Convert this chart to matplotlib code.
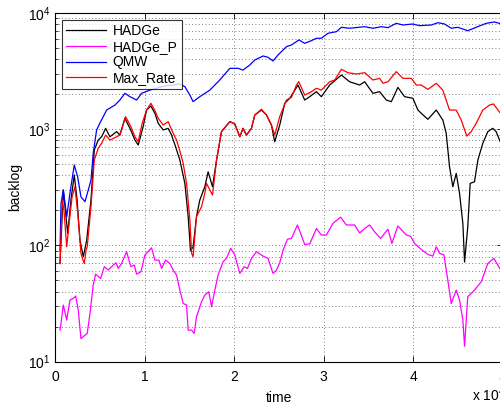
import matplotlib
matplotlib.use("Agg")
import matplotlib.pyplot as plt
from matplotlib.ticker import LogLocator, NullFormatter

plt.rcParams['font.family'] = ['Liberation Sans', 'DejaVu Sans']
plt.rcParams['mathtext.default'] = 'regular'

# backlog traces
t_hadge = [560, 930, 1420, 1790, 2150, 2460, 2790, 3160, 3540, 4020, 4390, 4830, 5210, 5660,
           6140, 6890, 7250, 7810, 8370, 8930, 9300, 9850, 10230, 10710, 11160, 11530, 12090,
           12640, 13020, 13470, 13950, 14510, 14880, 15140, 15430, 15810, 16180, 16740, 17110,
           17600, 18050, 18600, 19530, 20090, 20650, 21010, 21390, 21950, 22320, 23070, 23630,
           24180, 24550, 25110, 25670, 26230, 27150, 27900, 28460, 29210, 29760, 30690, 32000,
           32920, 34040, 34600, 35520, 36270, 37020, 37580, 38310, 39060, 39990, 40550, 40920,
           41660, 42600, 43330, 43710, 44080, 44450, 44830, 45200, 45570, 45760, 46120, 46390,
           46870, 47250, 47800, 48360, 48910, 49290, 50000]
hadge = [70, 300, 127, 250, 404, 250, 111, 80, 111, 246, 662, 807, 861, 1018,
         861, 953, 891, 1242, 1018, 807, 731, 1052, 1462, 1585, 1371, 1125, 985,
         1018, 891, 708, 543, 342, 177, 90, 97, 177, 246, 320, 430,
         320, 543, 953, 1162, 1109, 861, 1018, 891, 1018, 1324, 1462, 1324,
         1087, 780, 1087, 1672, 1845, 2400, 1782, 1905, 2104, 1905, 2400, 2925,
         2560, 2400, 2560, 2037, 2104, 1782, 1726, 2290, 1905, 1845, 1462, 1371,
         1217, 1462, 1200, 923, 476, 320, 417, 281, 155, 72, 145, 342,
         353, 543, 757, 953, 1018, 953, 700]

t_hadge_p = [560, 670, 930, 1310, 1670, 2040, 2310, 2600, 2900, 3350, 3600, 3910, 4270, 4540,
             5100, 5500, 5950, 6510, 6810, 7060, 7440, 8000, 8480, 8850, 9120, 9600, 10040,
             10790, 11160, 11610, 11910, 12350, 12830, 13200, 13580, 13950, 14320, 14700,
             14880, 15260, 15550, 15810, 16370, 16740, 17190, 17490, 17860, 18220, 18780,
             19160, 19640, 20090, 20650, 21130, 21510, 21950, 22510, 23250, 23800, 24360,
             24740, 25110, 25480, 25970, 26420, 27090, 27900, 28460, 29210, 29760, 30320,
             31060, 31920, 32550, 33480, 34040, 34600, 35150, 35710, 36380, 37200, 37640,
             38310, 39250, 39730, 40180, 40920, 41660, 42220, 42600, 42970, 43450, 43890,
             44270, 44830, 45200, 45570, 45760, 46120, 46870, 47620, 48360, 49030, 50000]
hadge_p = [18.7, 21.4, 30.7, 22.8, 33.9, 35, 36.7, 27.8, 15.8, 16.9, 17.5, 26, 45.7, 56.7,
           52, 65.6, 61.4, 67.8, 71, 63.5, 70, 88.3, 65.6, 67.8, 56.7, 59.4, 82.6,
           95.5, 74.8, 74.8, 63.5, 74.8, 70, 61.4, 55.6, 41.3, 31.7, 30.7,
           18.7, 18.7, 17.5, 24.3, 32.7, 37.4, 40, 29.7, 41.3, 55.6, 72.5,
           77.4, 94.4, 82.6, 57.5, 65.6, 63.5, 77.4, 88.3, 81, 77.4, 57.5,
           61.4, 71, 91, 113, 115, 150, 102, 103, 140, 123, 123,
           155, 175, 150, 150, 128, 140, 150, 131, 115, 138, 104,
           147, 123, 120, 104, 92.5, 83.7, 81, 97.5, 85.5, 83, 50.4,
           31.6, 41.3, 33.9, 22.8, 13.6, 36.3, 41.3, 48.7, 70, 77.4, 58]

t_qmw = [560, 670, 930, 1310, 1670, 2150, 2530, 2900, 3350, 3720, 4020, 4270, 4650, 5020,
         5770, 6700, 7250, 7810, 8370, 9120, 9680, 10600, 12280, 13950, 14510, 15070, 15430,
         16180, 17300, 18410, 19530, 20460, 21010, 21760, 22320, 23250, 23800, 24360, 24920,
         25860, 26420, 27260, 27900, 28650, 29210, 29760, 30500, 31440, 32000, 32920, 34600,
         35520, 36460, 37200, 38130, 38870, 39990, 40730, 42040, 42780, 43520, 44270, 45010,
         46120, 47060, 48180, 49100, 50000]
qmw = [90, 230, 300, 177, 281, 492, 390, 262, 238, 300, 365, 621, 985, 1130,
       1462, 1614, 1782, 2037, 1905, 1782, 2037, 2170, 2355, 2450, 2323, 1968, 1726,
       1905, 2170, 2650, 3340, 3340, 3228, 3565, 3940, 4266, 4156, 3864, 4352,
       5130, 5305, 5860, 5485, 5780, 6060, 6060, 6690, 6900, 7530, 7390, 7620,
       7390, 7620, 7475, 8150, 7880, 8040, 7780, 7880, 8250, 8040, 7390, 7530,
       7040, 7530, 8150, 8365, 8000]

t_maxrate = [560, 810, 1000, 1310, 1560, 1900, 2230, 2570, 2900, 3120, 3270, 3460, 3600, 4020,
             4390, 4830, 5210, 5660, 6140, 6890, 7250, 7890, 8480, 8930, 9300, 9740, 10230,
             10710, 11160, 11530, 12090, 12640, 13200, 13580, 13950, 14320, 14700, 15070,
             15260, 15430, 15810, 16370, 16740, 16930, 17300, 17600, 18050, 18600, 19530,
             20090, 20650, 21010, 21390, 21950, 22320, 23070, 23630, 24180, 24550, 25110,
             25860, 26420, 26970, 27230, 27900, 28650, 29210, 29760, 30690, 31250, 32000,
             32730, 33670, 34600, 35520, 36270, 36640, 37200, 38130, 38870, 39810, 40370,
             40920, 41660, 42600, 43330, 44080, 44830, 45390, 46010, 46500, 47060, 47800,
             48550, 48990, 50000]
maxrate = [70, 246, 200, 97.5, 150, 260, 320, 180, 85.5, 75, 70, 90, 97.5, 215,
           543, 685, 757, 891, 807, 861, 891, 1283, 1052, 861, 780, 1125, 1462,
           1672, 1450, 1242, 1087, 1162, 923, 807, 650, 509, 342, 166,
           85.5, 80, 177, 215, 281, 342, 300, 272, 543, 953, 1162,
           1109, 861, 1018, 891, 1018, 1324, 1483, 1324, 1087, 891, 1283,
           1782, 1880, 2394, 2565, 1968, 2104, 2250, 2170, 2560, 2650, 3275,
           3063, 2985, 3063, 2650, 2740, 2485, 2560, 3127, 2740, 2740, 2400,
           2400, 2200, 2485, 2170, 1462, 1462, 1200, 873, 953, 1125, 1462,
           1614, 1650, 1300]

fig = plt.figure(figsize=(5.0, 4.08), dpi=100)
ax = fig.add_axes([0.11, 0.1135, 0.895, 0.8547])

ax.plot(t_hadge, hadge, color='k', lw=0.9, label='HADGe')
ax.plot(t_hadge_p, hadge_p, color='#ff00ff', lw=0.9, label='HADGe_P')
ax.plot(t_qmw, qmw, color='#0000ff', lw=0.9, label='QMW')
ax.plot(t_maxrate, maxrate, color='#ff0000', lw=0.9, label='Max_Rate')

ax.set_yscale('log')
ax.set_ylim(10, 1e4)
ax.set_xlim(0, 5e4)
ax.set_xticks([0, 1e4, 2e4, 3e4, 4e4, 5e4])
ax.set_xticklabels(['0', '1', '2', '3', '4', '5'])
ax.yaxis.set_minor_locator(LogLocator(base=10, subs=range(2, 10)))
ax.yaxis.set_minor_formatter(NullFormatter())

ax.tick_params(which='both', direction='in', top=True, right=True, labelsize=10)
ax.tick_params(which='major', length=4, width=0.6)
ax.tick_params(which='minor', length=2, width=0.5)
ax.tick_params(axis='x', pad=6)

ax.grid(True, which='major', linestyle=(0, (1, 3)), color='#555555', lw=0.6)
ax.grid(True, which='minor', axis='y', linestyle=(0, (1, 3)), color='#555555', lw=0.6)
for s in ax.spines.values():
    s.set_linewidth(0.8)

ax.set_xlabel('time', fontsize=10, labelpad=5)
ax.set_ylabel('backlog', fontsize=10, labelpad=4)
fig.text(0.944, 0.018, 'x 10$^4$', fontsize=10)

leg = ax.legend(loc='upper left', fontsize=10, frameon=True, fancybox=False,
                edgecolor='k', borderpad=0.3, handlelength=2.9, handletextpad=0.45,
                labelspacing=0.12, borderaxespad=0.5)
leg.get_frame().set_linewidth(0.8)

fig.savefig('out.png', dpi=100)
